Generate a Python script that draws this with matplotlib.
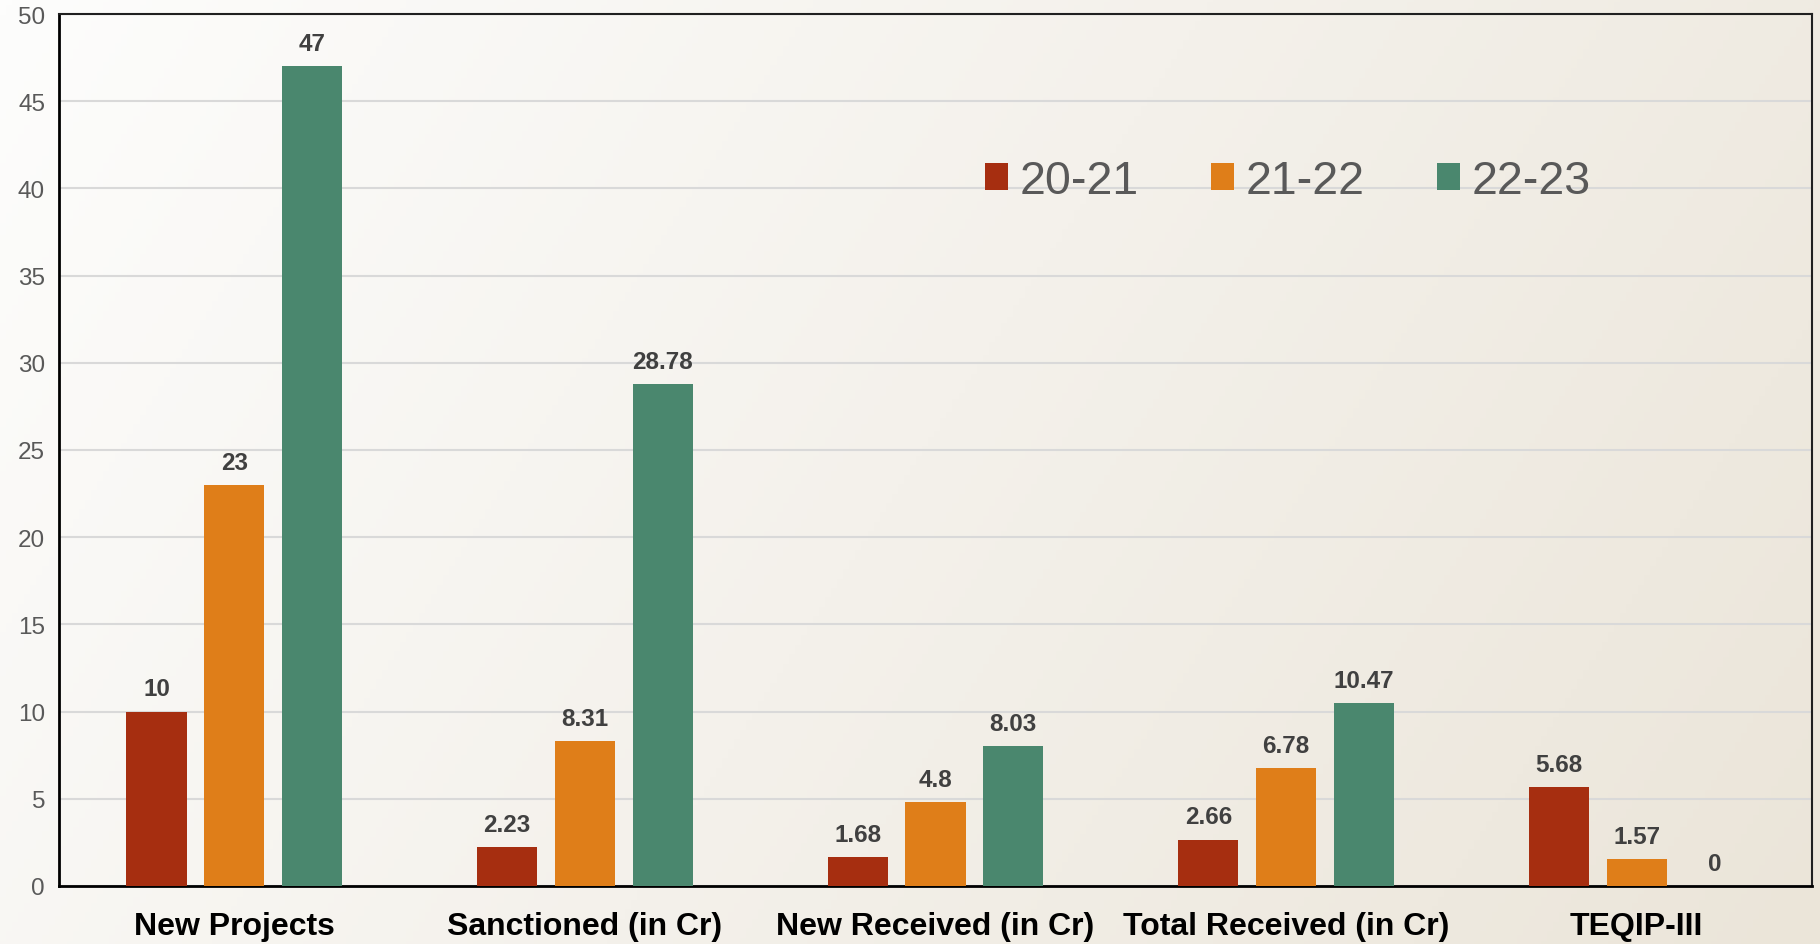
import numpy as np
import matplotlib.pyplot as plt
from matplotlib.colors import LinearSegmentedColormap

categories = ["New Projects", "Sanctioned (in Cr)", "New Received (in Cr)",
              "Total Received (in Cr)", "TEQIP-III"]
years = ["20-21", "21-22", "22-23"]
v_2021 = [10, 2.23, 1.68, 2.66, 5.68]
v_2122 = [23, 8.31, 4.8, 6.78, 1.57]
v_2223 = [47, 28.78, 8.03, 10.47, 0]
colors = ["#A62E10", "#DF7E19", "#4A876E"]

plt.rcParams['font.family'] = ['Liberation Sans', 'DejaVu Sans']

fig = plt.figure(figsize=(18.2, 9.45), dpi=100)

# gradient background for the whole figure
bg = fig.add_axes([0, 0, 1, 1], zorder=-10)
gx, gy = np.meshgrid(np.linspace(0, 1, 300), np.linspace(0, 1, 300))
grad = (gx * 0.75 + gy * 0.25)
cmap = LinearSegmentedColormap.from_list("bg", ["#FDFDFC", "#F4F1EB", "#EBE5D9"])
bg.imshow(grad, cmap=cmap, aspect='auto', origin='upper', extent=[0, 1, 0, 1])
bg.axis('off')

ax = fig.add_axes([59 / 1820, 1 - 887 / 945, (1812 - 59) / 1820, (887 - 15) / 945])
ax.patch.set_alpha(0)

x = np.arange(len(categories))
w = 0.172
gap = 0.222
for i, (vals, lab) in enumerate(zip([v_2021, v_2122, v_2223], years)):
    bars = ax.bar(x + (i - 1) * gap, vals, w, color=colors[i], label=lab, zorder=3)
    for b, v in zip(bars, vals):
        ax.annotate(f"{v:g}", (b.get_x() + b.get_width() / 2, v),
                    xytext=(0, 8), textcoords='offset points',
                    ha='center', va='bottom', fontsize=17.5, fontweight='bold',
                    color='#404040')

ax.set_xlim(-0.5, 4.5)
ax.set_ylim(0, 50)
ax.set_yticks(range(0, 51, 5))
ax.yaxis.grid(True, color='#D9D9D9', linewidth=1.5, zorder=0)
ax.set_axisbelow(True)
ax.tick_params(axis='y', length=0, labelsize=17.5, labelcolor='#595959', pad=10)
ax.tick_params(axis='x', length=0, labelsize=23, pad=18)
ax.set_xticks(x)
ax.set_xticklabels(categories, fontweight='bold', color='black')
for s in ['left', 'bottom']:
    ax.spines[s].set_linewidth(2)
    ax.spines[s].set_color('black')
for s in ['top', 'right']:
    ax.spines[s].set_linewidth(1.5)
    ax.spines[s].set_color('#202020')

leg = ax.legend(loc='center', bbox_to_anchor=(1288 / 1820, 1 - 182 / 945),
                bbox_transform=fig.transFigure, ncol=3, frameon=False,
                fontsize=33.5, handlelength=0.5, handleheight=0.5,
                handletextpad=0.25, columnspacing=1.55)
for t in leg.get_texts():
    t.set_color('#595959')

fig.savefig("out.png", dpi=100)
